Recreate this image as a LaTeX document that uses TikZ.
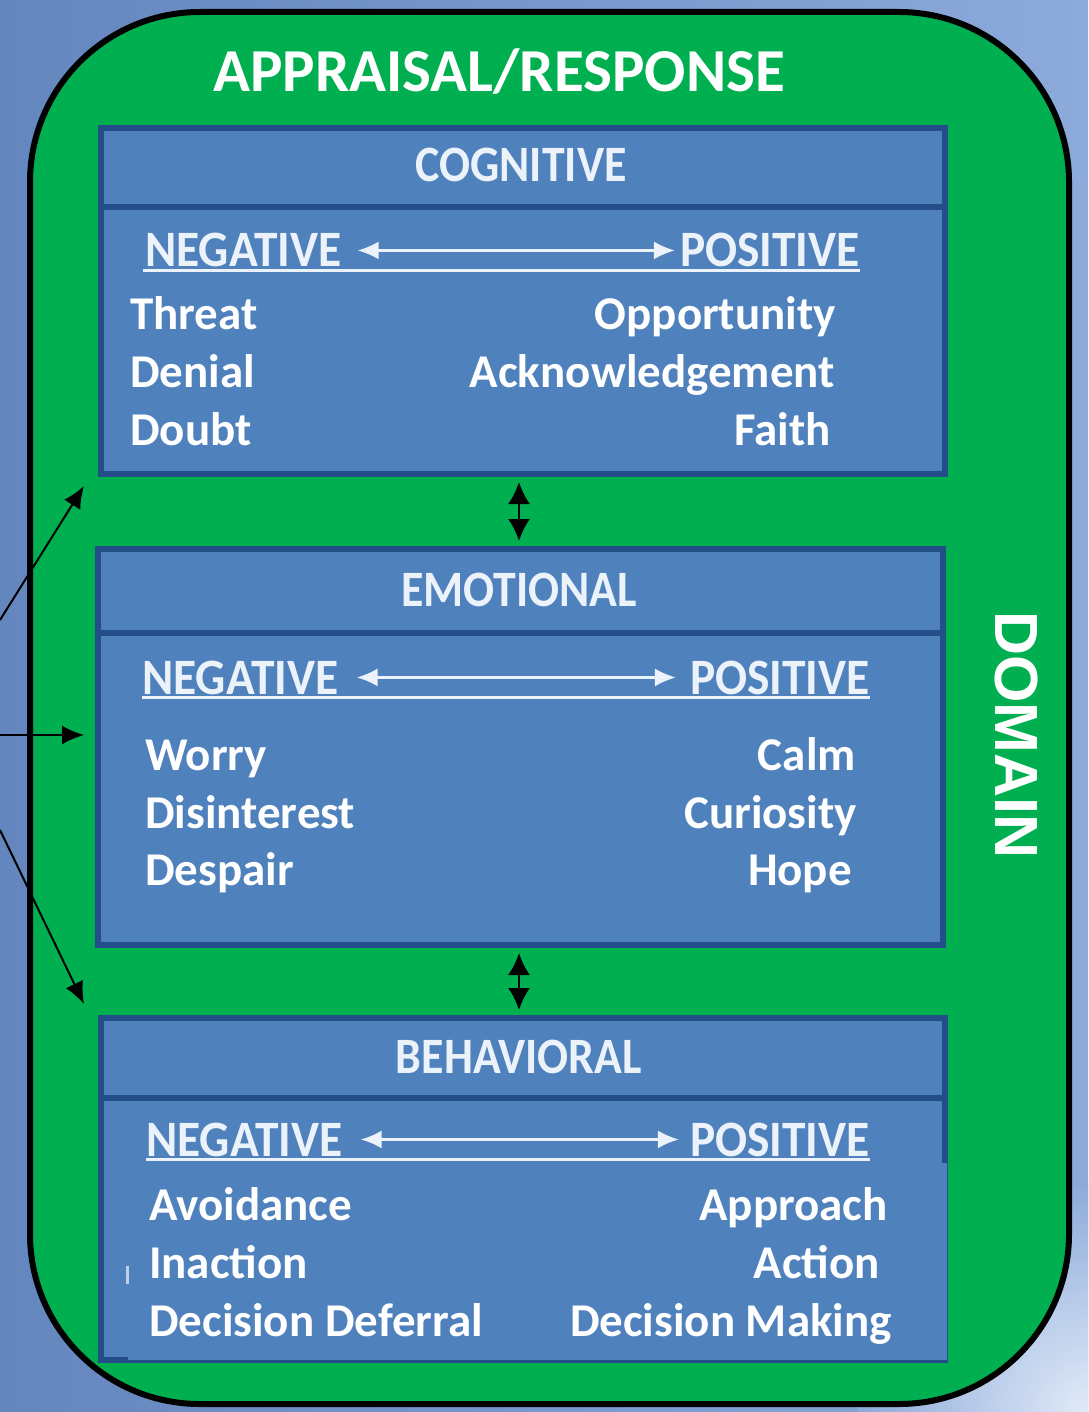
\documentclass[tikz,border=0pt]{standalone}
\usepackage{fontspec}
\setmainfont{Carlito}
\newfontfamily\condfont[FakeStretch=0.9]{Carlito}
\newfontfamily\polefont[FakeStretch=0.93]{Carlito}
\newfontfamily\domfont{Liberation Sans}
\usetikzlibrary{arrows.meta}
\definecolor{bgblue}{RGB}{100,134,190}
\definecolor{bglight}{RGB}{140,170,218}
\definecolor{bgglow}{RGB}{225,234,248}
\definecolor{dgreen}{RGB}{0,176,80}
\definecolor{boxfill}{RGB}{79,129,189}
\definecolor{boxline}{RGB}{36,78,136}
\definecolor{hdrtext}{RGB}{236,242,250}
\tikzset{
  box/.style={draw=boxline, line width=6pt, fill=boxfill, inner sep=0pt, anchor=north west},
  divider/.style={draw=boxline, line width=6pt},
  hdr/.style={text=hdrtext, font=\condfont\bfseries\fontsize{51}{60}\selectfont, inner sep=0pt, anchor=base},
  pole/.style={text=hdrtext, font=\polefont\bfseries\fontsize{51}{60}\selectfont, inner sep=0pt},
  item/.style={text=white, font=\bfseries\fontsize{47}{56}\selectfont, inner sep=0pt},
  uline/.style={draw=hdrtext, line width=2.5pt},
  wdarrow/.style={draw=hdrtext, line width=2.5pt, {Latex[length=21pt,width=18pt]}-{Latex[length=21pt,width=18pt]}},
  bdarrow/.style={draw=black, line width=2.5pt, {Latex[length=22pt,width=22pt]}-{Latex[length=22pt,width=22pt]}},
  inarrow/.style={draw=black, line width=2pt, -{Latex[length=22pt,width=19pt]}},
}
\begin{document}
\begin{tikzpicture}[x=1pt,y=-1pt]
\useasboundingbox (0,0) rectangle (1088,1412);
% background
\shade[left color=bgblue, right color=bglight] (0,0) rectangle (1088,1412);
\begin{scope}
  \clip (0,0) rectangle (1088,1412);
  \shade[inner color=bgglow, outer color=bglight] (1088,1412) circle (230);
\end{scope}
% green domain frame
\draw[fill=dgreen, draw=black, line width=6pt, rounded corners=170pt] (30,12) rectangle (1069,1404);
\node[text=white, font=\bfseries\fontsize{61}{70}\selectfont, anchor=base, inner sep=0pt] (title) at (499,92) {APPRAISAL/RESPONSE};
\node[text=white, font=\domfont\bfseries\fontsize{61}{70}\selectfont, rotate=-90, inner sep=0pt] (domain) at (1016,735) {DOMAIN};

% ---------- COGNITIVE ----------
\node[box, minimum width=844pt, minimum height=346pt] (cog) at (98,125) {};
\draw[divider] (98,207) -- (942,207);
\node[hdr] (cogh) at (521,182) {COGNITIVE};
\node[pole, anchor=base west] (neg1) at (145,267) {NEGATIVE};
\node[pole, anchor=base east] (pos1) at (860,267) {POSITIVE};
\draw[wdarrow] ([xshift=16pt]neg1.east) -- ([xshift=-5pt]pos1.west);
\draw[uline] ([yshift=-3pt]neg1.south west) ++(-2pt,0) -- ([yshift=-3pt]pos1.south east);
\node[item, anchor=base west] (c1) at (130,330) {Threat};
\node[item, anchor=base west] (c2) at (130,387) {Denial};
\node[item, anchor=base west] (c3) at (130,445) {Doubt};
\node[item, anchor=base east] (c4) at (836,330) {Opportunity};
\node[item, anchor=base east] (c5) at (835,387) {Acknowledgement};
\node[item, anchor=base east] (c6) at (831,445) {Faith};

% ---------- EMOTIONAL ----------
\node[box, minimum width=845pt, minimum height=396pt] (emo) at (95,546) {};
\draw[divider] (95,633) -- (940,633);
\node[hdr] (emoh) at (519,606) {EMOTIONAL};
\node[pole, anchor=base west] (neg2) at (142,694) {NEGATIVE};
\node[pole, anchor=base east] (pos2) at (870,694) {POSITIVE};
\draw[wdarrow] ([xshift=18pt]neg2.east) -- ([xshift=-14pt]pos2.west);
\draw[uline] ([yshift=-3pt]neg2.south west) -- ([yshift=-3pt]pos2.south east);
\node[item, anchor=base west] (e1) at (145,770) {Worry};
\node[item, anchor=base west] (e2) at (145,828) {Disinterest};
\node[item, anchor=base west] (e3) at (145,885) {Despair};
\node[item, anchor=base east] (e4) at (856,770) {Calm};
\node[item, anchor=base east] (e5) at (857,828) {Curiosity};
\node[item, anchor=base east] (e6) at (852,885) {Hope};

% ---------- BEHAVIORAL ----------
\node[box, minimum width=844pt, minimum height=342pt] (beh) at (98,1015) {};
\fill[boxfill] (128,1163) rectangle (947,1360);
\fill[hdrtext!70!boxfill] (126,1266) rectangle (129,1284);
\draw[divider] (98,1098) -- (942,1098);
\node[hdr] (behh) at (519,1073) {BEHAVIORAL};
\node[pole, anchor=base west] (neg3) at (146,1156) {NEGATIVE};
\node[pole, anchor=base east] (pos3) at (870,1156) {POSITIVE};
\draw[wdarrow] ([xshift=18pt]neg3.east) -- ([xshift=-11pt]pos3.west);
\draw[uline] ([yshift=-3pt]neg3.south west) -- ([yshift=-3pt]pos3.south east);
\node[item, anchor=base west] (b1) at (149,1220) {Avoidance};
\node[item, anchor=base west] (b2) at (149,1278) {Inaction};
\node[item, anchor=base west] (b3) at (149,1336) {Decision Deferral};
\node[item, anchor=base east] (b4) at (888,1220) {Approach};
\node[item, anchor=base east] (b5) at (880,1278) {Action};
\node[item, anchor=base east] (b6) at (892,1336) {Decision Making};

% ---------- connectors between boxes ----------
\draw[bdarrow, shorten <=5pt, shorten >=5pt] (cog.south -| 519,0) -- (emo.north -| 519,0);
\draw[bdarrow, shorten <=5pt, shorten >=5pt] (emo.south -| 519,0) -- (beh.north -| 519,0);

% ---------- inputs from the left ----------
\coordinate (srcA) at (0,620);
\coordinate (tipA) at (84,486);
\coordinate (srcB) at (0,735);
\coordinate (tipB) at (84,735);
\coordinate (srcC) at (0,830);
\coordinate (tipC) at (84,1004);
\draw[inarrow] (srcA) -- (tipA);
\draw[inarrow] (srcB) -- (tipB);
\draw[inarrow] (srcC) -- (tipC);
\end{tikzpicture}
\end{document}
